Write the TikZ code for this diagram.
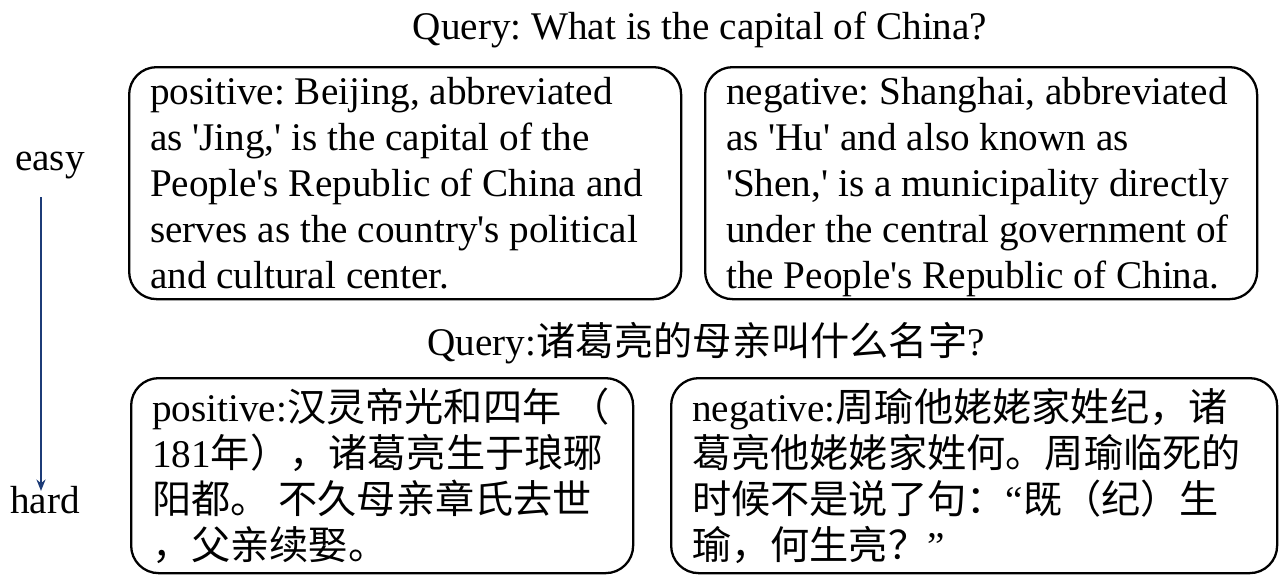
\documentclass[tikz,border=0pt]{standalone}
\usepackage{fontspec}
\setmainfont{Liberation Serif}
\newfontfamily\cjk{Noto Sans CJK SC}
\usepackage{tikz}
\usetikzlibrary{arrows.meta, positioning}
\definecolor{levelblue}{HTML}{1C3B77}
\newcommand\apos{\textquotesingle}
\frenchspacing

\begin{document}
\begin{tikzpicture}[every node/.style={font=\fontsize{22.3}{26.2}\selectfont},
  pair/.style={draw, line width=1.3pt, rounded corners=0.55cm, anchor=north west, align=flush left, inner xsep=0.42cm, inner ysep=0pt},
  easypair/.style={pair, text width=10.2cm, minimum height=4.64cm}]
  \useasboundingbox (0,0) rectangle (25.6,-11.54);

  % easy example
  \node (q1) at (14.0,-0.6) {Query: What is the capital of China?};
  \node[easypair] (pos1) at (2.56,-1.32)
    {positive: Beijing, abbreviated\\as \apos Jing,\apos{} is the capital of the\\People\apos s Republic of China and\\serves as the country\apos s political\\and cultural center.};
  \node[easypair] (neg1) at (14.08,-1.32)
    {negative: Shanghai, abbreviated\\as \apos Hu\apos{} and also known as\\\apos Shen,\apos{} is a municipality directly\\under the central government of\\\smash{the People\apos s Republic of China.}};

  % hard example
  \node (q2) at (14.12,-6.86) {Query:{\cjk 诸葛亮的母亲叫什么名字}?};
  \node[pair, text width=9.2cm, minimum height=3.9cm] (pos2) at (2.6,-7.54)
    {positive:{\cjk 汉灵帝光和四年 （}\\181{\cjk 年），诸葛亮生于琅琊}\\{\cjk 阳都。 不久母亲章氏去世}\\{\cjk ，父亲续娶。}};
  \node[pair, text width=11.28cm, minimum height=3.9cm] (neg2) at (13.4,-7.54)
    {negative:{\cjk 周瑜他姥姥家姓纪，诸}\\{\cjk 葛亮他姥姥家姓何。周瑜临死的}\\{\cjk 时候不是说了句：}“{\cjk 既（纪）生}\\{\cjk 瑜，何生亮？}”};

  % difficulty axis
  \node (easy) at (1.0,-3.3) {easy};
  \node (hard) at (0.9,-10.0) {hard};
  \draw[levelblue, line width=1.1pt, -{Stealth[length=2.3mm, width=1.8mm]}]
    ([xshift=-0.18cm, yshift=-0.25cm]easy.south) -- ([xshift=-0.08cm, yshift=-0.22cm]hard.north);
\end{tikzpicture}
\end{document}
